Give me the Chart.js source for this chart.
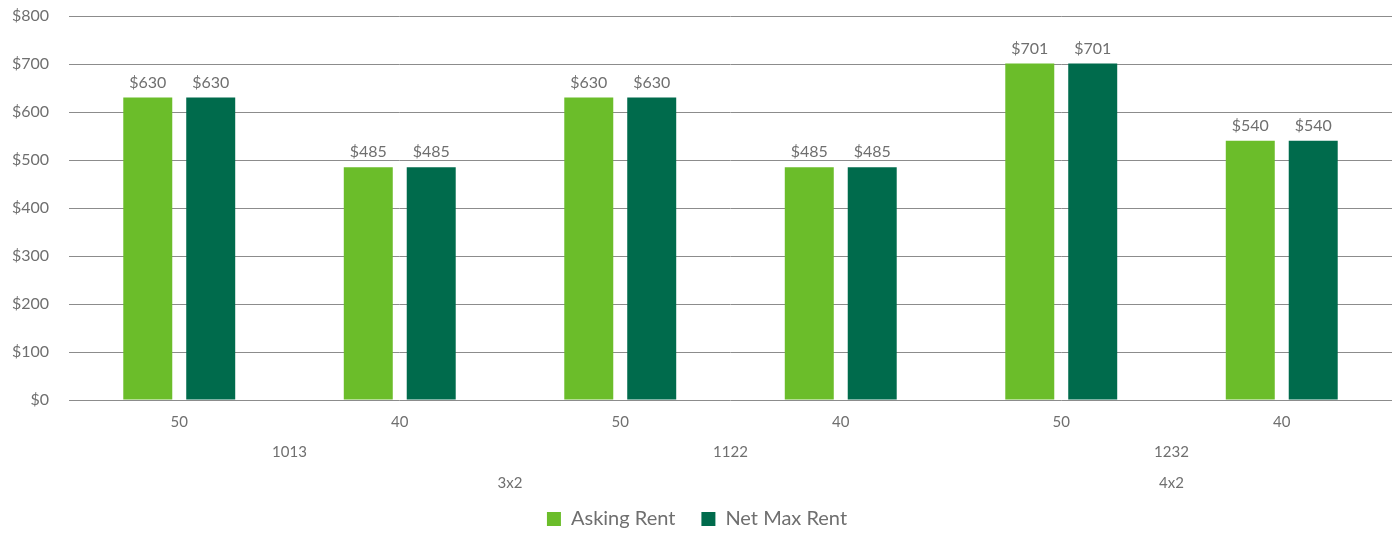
<!DOCTYPE html>
<html lang="en">
<head>
    <meta charset="UTF-8">
    <title>Asking Rent vs Net Max Rent</title>
    <style>
        html, body {
            margin: 0;
            padding: 0;
            background-color: #fff;
        }
        #chartContainer {
            width: 1396px;
            height: 533px;
        }
    </style>
</head>
<body>
    <div id="chartContainer">
        <canvas id="rentChart"></canvas>
    </div>

    <script src="https://cdn.jsdelivr.net/npm/chart.js"></script>
    <script>
// unit rows: AMI %, square feet, bedroom type
var amiLevels = ["50", "40", "50", "40", "50", "40"];
var sqftGroups = ["1013", "1013", "1122", "1122", "1232", "1232"];
var unitTypes = ["3x2", "3x2", "3x2", "3x2", "4x2", "4x2"];

var askingRent = [630, 485, 630, 485, 701, 540];
var netMaxRent = [630, 485, 630, 485, 701, 540];

var yTicks = [0, 100, 200, 300, 400, 500, 600, 700, 800];

var textColor = "#6f6f6f";
var fontFamily = "Lato, 'Open Sans', sans-serif";

// draws the value on top of every bar
var valueLabels = {
    id: "valueLabels",
    afterDatasetsDraw: function(chart) {
        var ctx = chart.ctx;
        ctx.save();
        ctx.font = "16px " + fontFamily;
        ctx.fillStyle = textColor;
        ctx.textAlign = "center";
        ctx.textBaseline = "bottom";
        chart.data.datasets.forEach(function(ds, i) {
            chart.getDatasetMeta(i).data.forEach(function(bar, j) {
                ctx.fillText("$" + ds.data[j], bar.x, bar.y - 7);
            });
        });
        ctx.restore();
    }
};

// draws the 2nd and 3rd level of the category axis
function groupRuns(list) {
    var runs = [];
    list.forEach(function(v, i) {
        if (runs.length && runs[runs.length - 1].label === v) {
            runs[runs.length - 1].end = i;
        } else {
            runs.push({label: v, start: i, end: i});
        }
    });
    return runs;
}

var groupLabels = {
    id: "groupLabels",
    afterDraw: function(chart) {
        var ctx = chart.ctx;
        var xs = chart.scales.x;
        ctx.save();
        ctx.font = "15px " + fontFamily;
        ctx.fillStyle = textColor;
        ctx.textAlign = "center";
        ctx.textBaseline = "middle";
        [[sqftGroups, 52], [unitTypes, 83]].forEach(function(level) {
            groupRuns(level[0]).forEach(function(r) {
                var x = (xs.getPixelForValue(r.start) + xs.getPixelForValue(r.end)) / 2;
                ctx.fillText(r.label, x, xs.top + level[1]);
            });
        });
        ctx.restore();
    }
};

var ctx = document.getElementById("rentChart").getContext("2d");
new Chart(ctx, {
    type: "bar",
    data: {
        labels: amiLevels,
        datasets: [{
            label: "Asking Rent",
            data: askingRent,
            backgroundColor: "#6bbd2a"
        }, {
            label: "Net Max Rent",
            data: netMaxRent,
            backgroundColor: "#006b4c"
        }]
    },
    options: {
        responsive: true,
        maintainAspectRatio: false,
        animation: false,
        categoryPercentage: 0.571,
        barPercentage: 0.778,
        layout: {
            padding: {top: 0, right: 4, left: 2, bottom: -6}
        },
        plugins: {
            tooltip: {enabled: false},
            legend: {
                position: "bottom",
                labels: {
                    boxWidth: 14,
                    boxHeight: 14,
                    padding: 26,
                    color: textColor,
                    font: {family: fontFamily, size: 20}
                }
            }
        },
        scales: {
            x: {
                grid: {display: false, drawTicks: false},
                border: {display: false},
                ticks: {
                    color: textColor,
                    padding: 13,
                    font: {family: fontFamily, size: 15}
                },
                afterFit: function(scale) {
                    scale.height += 39;
                }
            },
            y: {
                min: 0,
                max: 800,
                afterBuildTicks: function(scale) {
                    scale.ticks = yTicks.map(function(v) { return {value: v}; });
                },
                afterFit: function(scale) {
                    scale.width = 67;
                    scale.paddingTop = 16;
                },
                grid: {color: "#8c8c8c", drawTicks: false, lineWidth: 1},
                border: {display: false},
                ticks: {
                    color: textColor,
                    padding: 20,
                    font: {family: fontFamily, size: 16},
                    callback: function(v) { return "$" + v; }
                }
            }
        }
    },
    plugins: [valueLabels, groupLabels]
});
    </script>
</body>
</html>
